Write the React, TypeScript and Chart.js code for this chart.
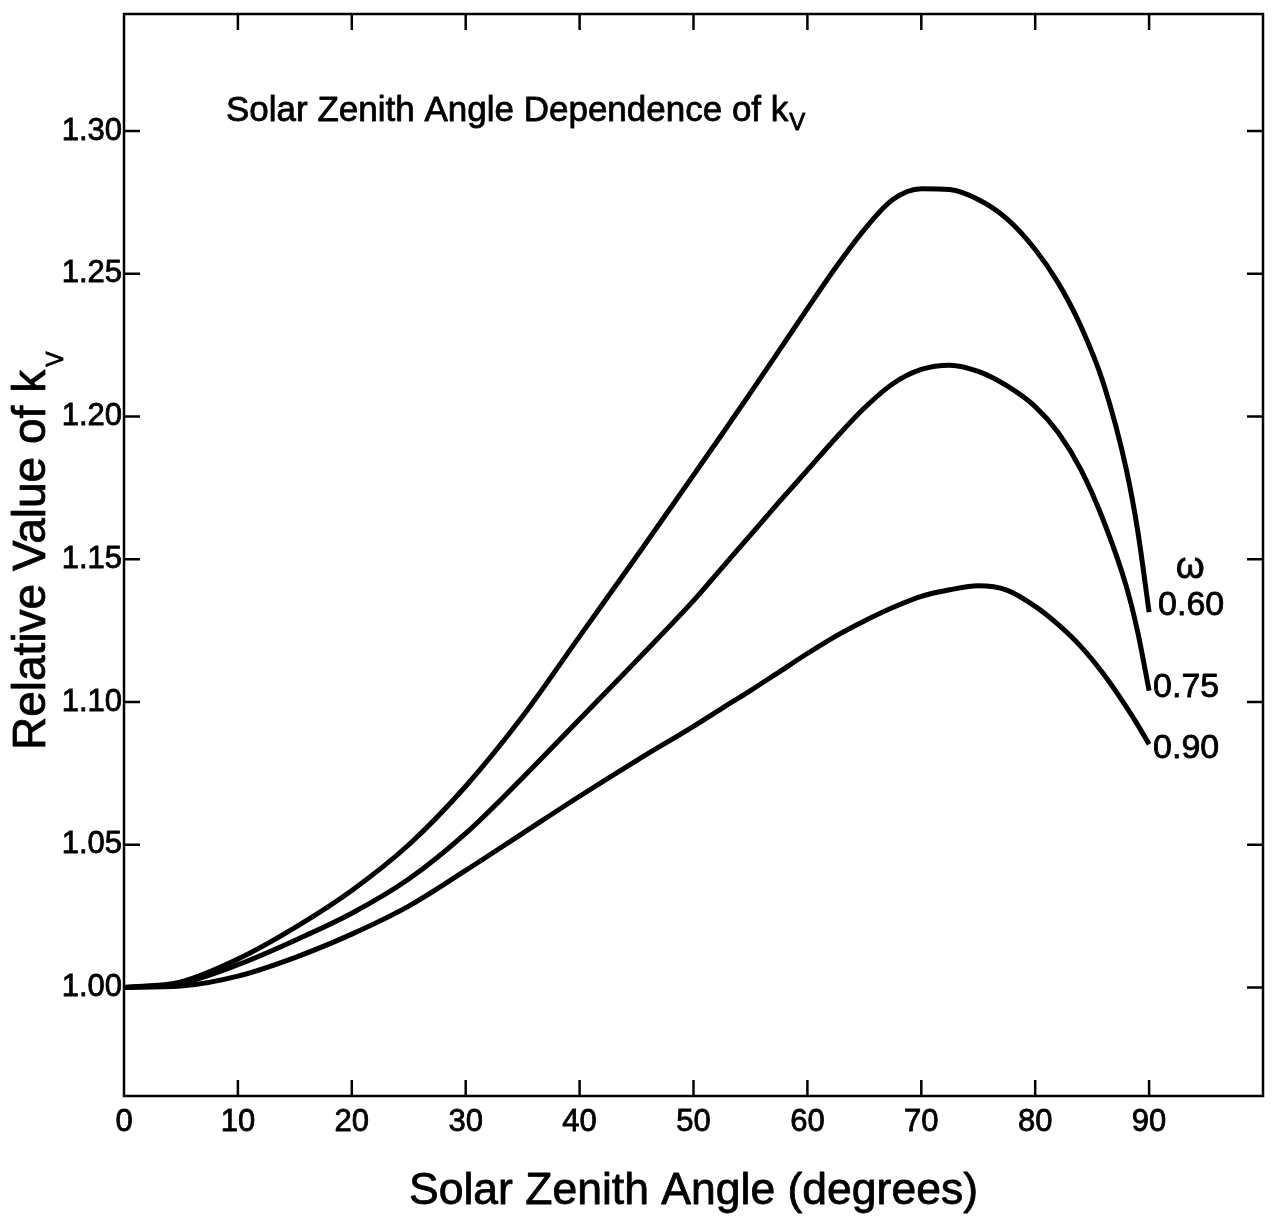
import { useEffect, useRef } from "react";
import { Chart, registerables } from "chart.js";

Chart.register(...registerables);

// Solar zenith angle samples (degrees)
const zenithAngles = [
  0, 5, 10, 15, 20, 25, 30, 35, 40, 45, 50, 52.5, 55, 57.5, 60, 62.5, 65, 67.5, 70, 72.5, 75, 77.5,
  80, 82, 84, 86, 88, 89, 90,
];

// Relative value of k_v for each single-scattering albedo ω
const kvOmega060 = [
  1.0, 1.002, 1.01, 1.021, 1.034, 1.05, 1.0705, 1.095, 1.123, 1.151, 1.1795, 1.1938, 1.2083, 1.223,
  1.2378, 1.2523, 1.2655, 1.276, 1.2798, 1.2795, 1.276, 1.2693, 1.2585, 1.2469, 1.2317, 1.2115,
  1.1815, 1.16, 1.1315,
];
const kvOmega075 = [
  1.0, 1.0015, 1.008, 1.0165, 1.026, 1.038, 1.054, 1.0735, 1.094, 1.1145, 1.1355, 1.147, 1.1585,
  1.17, 1.1812, 1.1925, 1.203, 1.2115, 1.2165, 1.218, 1.2158, 1.2108, 1.2035, 1.1945, 1.1815, 1.1635,
  1.1405, 1.1245, 1.104,
];
const kvOmega090 = [
  1.0, 1.0005, 1.004, 1.0105, 1.0187, 1.0285, 1.041, 1.054, 1.067, 1.0795, 1.0915, 1.0978, 1.104,
  1.1105, 1.117, 1.1231, 1.1284, 1.1331, 1.137, 1.1393, 1.1407, 1.1392, 1.1335, 1.1272, 1.1195,
  1.1098, 1.0983, 1.092, 1.0852,
];

const omegaLabels = ["0.60", "0.75", "0.90"];
const xTickLabels = [0, 10, 20, 30, 40, 50, 60, 70, 80, 90];
const xTickMarks = [10, 20, 30, 40, 50, 60, 70, 80, 90];
const yTickValues = [1.0, 1.05, 1.1, 1.15, 1.2, 1.25, 1.3];

const FONT = "'Liberation Sans', Arial, Helvetica, sans-serif";
const TICK_LEN = 16;
const TEXT_STROKE = 0.8;

// end-of-curve label offsets (px) from each curve's last point
const labelOffsets = [
  { dx: 9, dy: 3 },
  { dx: 4, dy: 6 },
  { dx: 4, dy: 14 },
];

function boldText(ctx: CanvasRenderingContext2D, text: string, x: number, y: number) {
  ctx.fillText(text, x, y);
  ctx.strokeText(text, x, y);
}

const frameAndTextPlugin = {
  id: "frameAndText",
  afterDraw(chart: any) {
    const { ctx, chartArea: a, scales } = chart;
    const xs = scales.x;
    const ys = scales.y;
    ctx.save();
    ctx.strokeStyle = "#000";
    ctx.fillStyle = "#000";
    ctx.lineWidth = 2.5;
    ctx.strokeRect(a.left, a.top, a.right - a.left, a.bottom - a.top);

    ctx.beginPath();
    for (const v of xTickMarks) {
      const px = xs.getPixelForValue(v);
      ctx.moveTo(px, a.top);
      ctx.lineTo(px, a.top + TICK_LEN);
      ctx.moveTo(px, a.bottom);
      ctx.lineTo(px, a.bottom - TICK_LEN);
    }
    for (const v of yTickValues) {
      const py = ys.getPixelForValue(v);
      ctx.moveTo(a.left, py);
      ctx.lineTo(a.left + TICK_LEN, py);
      ctx.moveTo(a.right, py);
      ctx.lineTo(a.right - TICK_LEN, py);
    }
    ctx.stroke();

    ctx.lineWidth = TEXT_STROKE;
    ctx.lineJoin = "round";

    // inner heading with subscript
    ctx.textBaseline = "alphabetic";
    ctx.textAlign = "left";
    ctx.font = `35px ${FONT}`;
    const head = "Solar Zenith Angle Dependence of k";
    const hx = a.left + 102;
    const hy = 121;
    boldText(ctx, head, hx, hy);
    const hw = ctx.measureText(head).width;
    ctx.font = `24px ${FONT}`;
    boldText(ctx, "V", hx + hw + 1, hy + 9);

    // x axis title
    ctx.font = `44.5px ${FONT}`;
    ctx.textAlign = "center";
    boldText(ctx, "Solar Zenith Angle (degrees)", (a.left + a.right) / 2, 1204);

    // y axis title (rotated) with subscript
    ctx.save();
    ctx.translate(45, 750);
    ctx.rotate(-Math.PI / 2);
    ctx.textAlign = "left";
    ctx.font = `46px ${FONT}`;
    const yt = "Relative Value of k";
    boldText(ctx, yt, 0, 0);
    const yw = ctx.measureText(yt).width;
    ctx.font = `23px ${FONT}`;
    boldText(ctx, "V", yw + 3, 18);
    ctx.restore();

    // curve labels
    ctx.textAlign = "left";
    ctx.font = `34px ${FONT}`;
    chart.data.datasets.forEach((ds: any, i: number) => {
      const last = ds.data[ds.data.length - 1];
      const px = xs.getPixelForValue(last.x) + labelOffsets[i].dx;
      const py = ys.getPixelForValue(last.y) + labelOffsets[i].dy;
      boldText(ctx, omegaLabels[i], px, py);
      if (i === 0) {
        ctx.font = `37px ${FONT}`;
        ctx.textAlign = "center";
        boldText(ctx, "\u03c9", px + 32, py - 37);
        ctx.font = `34px ${FONT}`;
        ctx.textAlign = "left";
      }
    });
    ctx.restore();
  },
};

function toPoints(values: number[]) {
  return zenithAngles.map((x, i) => ({ x, y: values[i] }));
}

export default function App() {
  const canvasRef = useRef<HTMLCanvasElement | null>(null);

  useEffect(() => {
    const canvas = canvasRef.current;
    if (!canvas) return;
    const lineStyle = {
      borderColor: "#000",
      borderWidth: 5,
      pointRadius: 0,
      fill: false,
      cubicInterpolationMode: "monotone" as const,
    };
    const chart = new Chart(canvas, {
      type: "line",
      data: {
        datasets: [
          { label: "ω = 0.60", data: toPoints(kvOmega060), ...lineStyle },
          { label: "ω = 0.75", data: toPoints(kvOmega075), ...lineStyle },
          { label: "ω = 0.90", data: toPoints(kvOmega090), ...lineStyle },
        ],
      },
      options: {
        responsive: false,
        animation: false,
        devicePixelRatio: 1,
        layout: { padding: { top: 14, right: 9, left: 0, bottom: 0 } },
        plugins: {
          legend: { display: false },
          tooltip: { enabled: false },
          title: { display: false },
        },
        scales: {
          x: {
            type: "linear",
            min: 0,
            max: 100,
            grid: { display: false, drawTicks: false, tickLength: 0 },
            border: { display: false },
            afterBuildTicks: (scale: any) => {
              scale.ticks = xTickLabels.map((v) => ({ value: v }));
            },
            afterFit: (scale: any) => {
              scale.height = 122;
              scale.paddingLeft = 0;
              scale.paddingRight = 0;
            },
            ticks: {
              autoSkip: false,
              maxRotation: 0,
              padding: 8,
              color: "#000",
              textStrokeColor: "#000",
              textStrokeWidth: TEXT_STROKE,
              font: { family: FONT, size: 31 },
              callback: (v: any) => String(v),
            },
          },
          y: {
            type: "linear",
            min: 0.962,
            max: 1.341,
            grid: { display: false, drawTicks: false, tickLength: 0 },
            border: { display: false },
            afterBuildTicks: (scale: any) => {
              scale.ticks = yTickValues.map((v) => ({ value: v }));
            },
            afterFit: (scale: any) => {
              scale.width = 124;
              scale.paddingTop = 0;
              scale.paddingBottom = 0;
            },
            ticks: {
              autoSkip: false,
              padding: 2,
              color: "#000",
              textStrokeColor: "#000",
              textStrokeWidth: TEXT_STROKE,
              font: { family: FONT, size: 31 },
              callback: (v: any) => Number(v).toFixed(2),
            },
          },
        },
      },
      plugins: [frameAndTextPlugin],
    });
    return () => chart.destroy();
  }, []);

  return (
    <div style={{ position: "absolute", left: 0, top: 0, width: 1272, height: 1218, background: "#fff" }}>
      <canvas ref={canvasRef} width={1272} height={1218} />
    </div>
  );
}
